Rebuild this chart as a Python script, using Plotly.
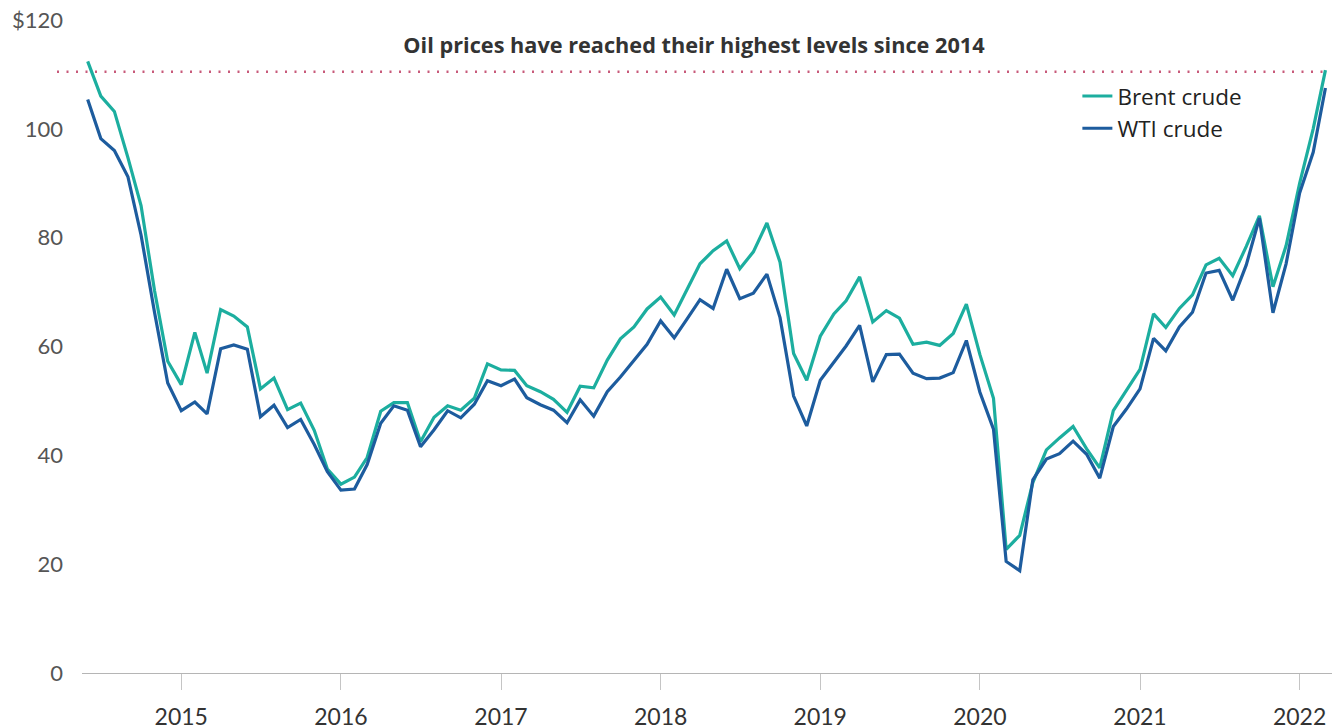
import pandas as pd
import plotly.graph_objects as go

# Monthly observations, June 2014 - March 2022
months = pd.date_range("2014-06-01", periods=94, freq="MS")

brent = [
    112.4, 106.0, 103.2, 94.7, 85.9, 70.2, 57.3,
    53.0, 62.6, 55.1, 66.8, 65.6, 63.6, 52.2, 54.2, 48.4, 49.6, 44.6, 37.5,
    34.7, 36.0, 39.6, 48.1, 49.7, 49.7, 42.5, 47.0, 49.1, 48.3, 50.5, 56.8,
    55.7, 55.6, 52.8, 51.7, 50.3, 47.9, 52.7, 52.4, 57.5, 61.4, 63.6, 66.9,
    69.1, 65.8, 70.3, 75.2, 77.6, 79.4, 74.3, 77.4, 82.7, 75.5, 58.7, 53.8,
    61.9, 66.0, 68.4, 72.8, 64.5, 66.6, 65.2, 60.4, 60.8, 60.2, 62.4, 67.8,
    58.5, 50.5, 22.7, 25.3, 35.0, 41.0, 43.2, 45.3, 41.2, 37.7, 48.2, 52.0,
    55.8, 66.0, 63.5, 67.0, 69.5, 75.0, 76.2, 73.0, 78.4, 84.0, 71.0, 78.5,
    90.0, 100.0, 110.8,
]

wti = [
    105.4, 98.2, 96.0, 91.2, 80.5, 66.2, 53.3,
    48.2, 49.8, 47.6, 59.6, 60.3, 59.5, 47.1, 49.2, 45.1, 46.6, 42.0, 37.0,
    33.6, 33.8, 38.3, 45.9, 49.1, 48.3, 41.6, 44.7, 48.2, 46.9, 49.4, 53.7,
    52.8, 54.0, 50.6, 49.3, 48.3, 46.0, 50.2, 47.2, 51.7, 54.4, 57.4, 60.4,
    64.7, 61.6, 64.9, 68.6, 67.0, 74.2, 68.8, 69.8, 73.3, 65.3, 50.9, 45.4,
    53.8, 57.2, 60.1, 63.9, 53.5, 58.5, 58.6, 55.1, 54.1, 54.2, 55.2, 61.1,
    51.6, 44.8, 20.5, 18.8, 35.5, 39.3, 40.3, 42.6, 40.2, 35.8, 45.3, 48.5,
    52.2, 61.5, 59.2, 63.6, 66.3, 73.5, 74.0, 68.5, 75.0, 83.6, 66.2, 75.2,
    88.2, 95.7, 107.5,
]

series_names = ["Brent crude", "WTI crude"]
series_colors = ["#1cae9f", "#1d5c9e"]

y_tickvals = [0, 20, 40, 60, 80, 100, 120]
y_ticktext = ["0", "20", "40", "60", "80", "100", "$120"]

reference_level = 110.5
title_text = "Oil prices have reached their highest levels since 2014"

FONT = "Lato, 'Open Sans', sans-serif"
FONT2 = "'Open Sans', Lato, sans-serif"

# The page body keeps an 8px margin, so the figure is sized to fill the rest
W, H = 1332, 719

fig = go.Figure()
for name, vals, col in zip(series_names, [brent, wti], series_colors):
    fig.add_trace(go.Scatter(
        x=months, y=vals, mode="lines", name=name,
        line=dict(color=col, width=3.2),
    ))

fig.add_shape(
    type="line", xref="paper", yref="y",
    x0=-0.02, x1=0.9968, y0=reference_level, y1=reference_level,
    line=dict(color="#c85a7a", width=2.5, dash="2px,7.5px"),
    layer="below",
)

fig.update_layout(
    width=W, height=H,
    margin=dict(l=74, r=8, t=12, b=54, autoexpand=False),
    paper_bgcolor="white", plot_bgcolor="white",
    font=dict(family=FONT, color="#333"),
    title=dict(
        text="<b>" + title_text + "</b>",
        x=0.515, xanchor="center", xref="container",
        y=1 - 37 / H, yanchor="middle", yref="container",
        font=dict(family=FONT2, size=21.7, color="#333"),
    ),
    showlegend=True,
    legend=dict(
        x=0.7963, y=0.916, xanchor="left", yanchor="top",
        font=dict(family=FONT2, size=22.5, color="#222"),
        bgcolor="rgba(0,0,0,0)",
    ),
    xaxis=dict(
        range=["2014-05-19", "2022-03-16"],
        automargin=False,
        showgrid=False, zeroline=False,
        showline=True, linecolor="#b5b5b5", linewidth=1,
        ticks="outside", ticklen=16, tickcolor="#c5c5c5", tickwidth=1,
        dtick="M12", tick0="2015-01-01", tickformat="%Y",
        tickfont=dict(family=FONT, size=23, color="#333"),
        ticklabelstandoff=7, ticklabeloverflow="allow",
    ),
    yaxis=dict(
        range=[0, 120],
        automargin=False,
        showgrid=False, zeroline=False, showline=False,
        tickvals=y_tickvals, ticktext=y_ticktext,
        tickfont=dict(family=FONT, size=22, color="#555"),
        ticks="", ticklabelstandoff=18, ticklabeloverflow="allow",
    ),
)

fig.write_html("out.html")
